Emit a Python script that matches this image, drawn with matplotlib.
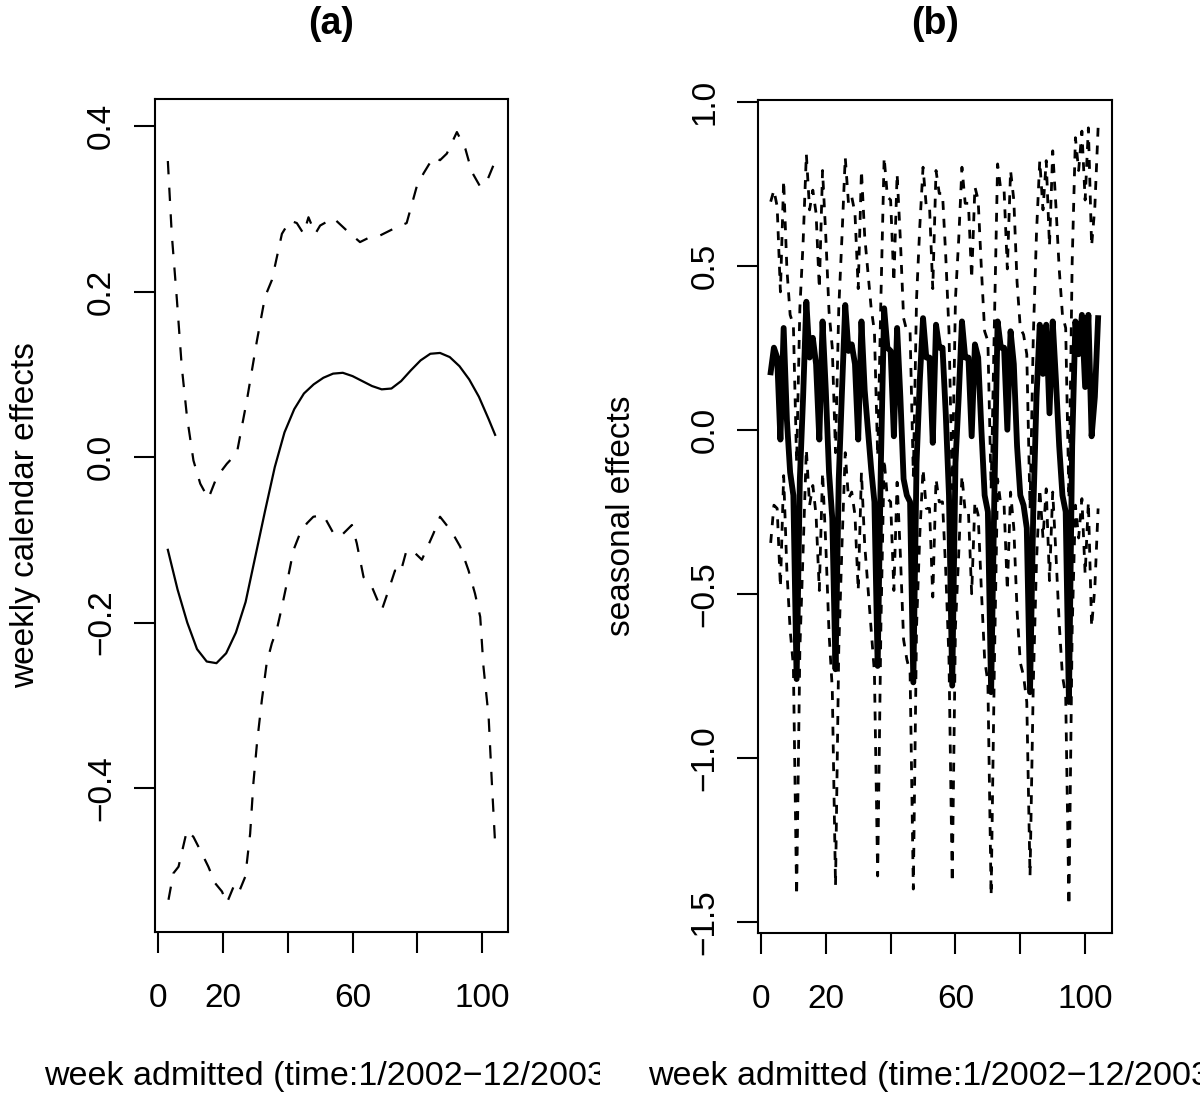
import matplotlib
matplotlib.use("Agg")
import matplotlib.pyplot as plt
from matplotlib.transforms import Bbox, TransformedBbox

plt.rcParams['font.family'] = ['Liberation Sans', 'DejaVu Sans']

# ---- data: panel (a) weekly calendar effects ----
wk_mid = [3, 6, 9, 12, 15, 18, 21, 24, 27, 30, 33, 36, 39, 42, 45, 48, 51, 54,
          57, 60, 63, 66, 69, 72, 75, 78, 81, 84, 87, 90, 93, 96, 99, 102, 104]
cal_mid = [-0.112, -0.16, -0.20, -0.232, -0.247, -0.249, -0.237, -0.212, -0.175,
           -0.12, -0.065, -0.012, 0.03, 0.058, 0.077, 0.088, 0.096, 0.101, 0.102,
           0.098, 0.092, 0.086, 0.082, 0.083, 0.092, 0.105, 0.117, 0.125, 0.126,
           0.121, 0.11, 0.094, 0.073, 0.046, 0.027]

wk_up = [3, 4.2, 5.8, 7.3, 8.9, 10.9, 13, 15.5, 18.1, 21.2, 24.3, 27.4, 30.5, 33,
         35.1, 37.1, 38.2, 40.7, 42.8, 44.9, 46.4, 48.5, 50, 54.1, 58.2, 62.3,
         65.4, 68.5, 73.1, 76.7, 79.8, 81.9, 85, 87, 89.1, 92.2, 94.8, 96.8, 99.4,
         101.4, 103.5]
cal_up = [0.358, 0.27, 0.19, 0.109, 0.049, -0.004, -0.032, -0.05, -0.024, -0.008,
          0.005, 0.069, 0.141, 0.194, 0.214, 0.25, 0.27, 0.286, 0.283, 0.27, 0.29,
          0.27, 0.28, 0.289, 0.274, 0.26, 0.266, 0.268, 0.277, 0.283, 0.327, 0.343,
          0.363, 0.359, 0.367, 0.393, 0.373, 0.345, 0.327, 0.333, 0.353]

wk_lo = [3.2, 4.7, 6.3, 8.9, 10.9, 13.5, 15.5, 17.6, 19.7, 21.2, 23.3, 24.8, 26.9,
         28.4, 29.4, 30.5, 32, 33.5, 35.1, 36.6, 38.2, 39.7, 41.8, 43.8, 45.9, 47.9,
         51, 54.1, 56.2, 59.8, 61.3, 63.4, 66, 69, 71.1, 73.1, 74.7, 76.7, 79.3,
         81.4, 85, 87, 90.6, 93.2, 95.8, 97.8, 99.4, 100.4, 102, 103, 104]
cal_lo = [-0.535, -0.503, -0.495, -0.451, -0.459, -0.479, -0.495, -0.515, -0.525,
          -0.539, -0.519, -0.527, -0.507, -0.455, -0.394, -0.346, -0.294, -0.249,
          -0.225, -0.209, -0.181, -0.153, -0.112, -0.092, -0.08, -0.072, -0.07,
          -0.092, -0.096, -0.082, -0.104, -0.145, -0.157, -0.185, -0.161, -0.137,
          -0.141, -0.112, -0.116, -0.124, -0.092, -0.072, -0.09, -0.108, -0.137,
          -0.165, -0.193, -0.253, -0.314, -0.394, -0.467]

# ---- data: panel (b) seasonal effects, weeks 3..104 ----
weeks = list(range(3, 105))
sea_mid = [0.175, 0.25, 0.22, -0.03, 0.31, 0.03, -0.13, -0.20, -0.76, -0.15,
           0.10, 0.39, 0.22, 0.28, 0.20, -0.03, 0.33, 0.12, -0.13, -0.27,
           -0.73, -0.15, 0.12, 0.38, 0.24, 0.26, 0.20, -0.03, 0.33, 0.12,
           0.00, -0.12, -0.22, -0.72, -0.10, 0.37, 0.25, 0.24, -0.02, 0.31,
           0.10, -0.15, -0.20, -0.22, -0.77, -0.10, 0.15, 0.34, 0.22, 0.22,
           -0.04, 0.32, 0.25, 0.25, 0.05, -0.20, -0.78, -0.10, 0.10, 0.33,
           0.22, 0.22, -0.02, 0.26, 0.22, 0.00, -0.20, -0.25, -0.80, -0.20,
           0.33, 0.25, 0.25, 0.00, 0.30, 0.20, -0.05, -0.20, -0.23, -0.30,
           -0.80, -0.25, 0.10, 0.32, 0.17, 0.32, 0.05, 0.33, 0.15, -0.05,
           -0.20, -0.25, -0.83, -0.05, 0.33, 0.23, 0.35, 0.13, 0.35, -0.02,
           0.10, 0.34]
sea_up = [0.695, 0.73, 0.68, 0.42, 0.76, 0.49, 0.35, 0.32, -0.10, 0.37,
          0.57, 0.84, 0.67, 0.73, 0.66, 0.43, 0.79, 0.59, 0.36, 0.25,
          -0.07, 0.37, 0.59, 0.83, 0.69, 0.71, 0.66, 0.43, 0.79, 0.59,
          0.48, 0.37, 0.30, -0.08, 0.40, 0.83, 0.71, 0.70, 0.45, 0.78,
          0.58, 0.34, 0.30, 0.30, -0.14, 0.40, 0.62, 0.80, 0.68, 0.68,
          0.43, 0.79, 0.72, 0.72, 0.53, 0.30, -0.18, 0.40, 0.58, 0.80,
          0.69, 0.69, 0.46, 0.74, 0.70, 0.49, 0.30, 0.27, -0.18, 0.32,
          0.81, 0.73, 0.73, 0.49, 0.79, 0.70, 0.45, 0.31, 0.29, 0.23,
          -0.24, 0.28, 0.60, 0.82, 0.67, 0.82, 0.56, 0.85, 0.68, 0.49,
          0.35, 0.31, -0.21, 0.51, 0.89, 0.79, 0.91, 0.70, 0.92, 0.56,
          0.68, 0.92]
sea_lo = [-0.345, -0.23, -0.24, -0.48, -0.14, -0.43, -0.61, -0.72, -1.42, -0.67,
          -0.37, -0.06, -0.23, -0.17, -0.26, -0.49, -0.13, -0.35, -0.62, -0.79,
          -1.39, -0.67, -0.35, -0.07, -0.21, -0.19, -0.26, -0.49, -0.13, -0.35,
          -0.48, -0.61, -0.74, -1.36, -0.60, -0.09, -0.21, -0.22, -0.49, -0.16,
          -0.38, -0.64, -0.70, -0.74, -1.40, -0.60, -0.32, -0.12, -0.24, -0.24,
          -0.51, -0.15, -0.22, -0.22, -0.43, -0.70, -1.38, -0.60, -0.38, -0.14,
          -0.25, -0.25, -0.50, -0.22, -0.26, -0.49, -0.70, -0.77, -1.42, -0.72,
          -0.15, -0.23, -0.23, -0.49, -0.19, -0.30, -0.55, -0.71, -0.75, -0.83,
          -1.36, -0.78, -0.40, -0.18, -0.33, -0.18, -0.46, -0.19, -0.38, -0.59,
          -0.75, -0.81, -1.45, -0.61, -0.23, -0.33, -0.21, -0.44, -0.22, -0.60,
          -0.48, -0.24]

x_ticks = [0, 20, 40, 60, 80, 100]
x_labels = ['0', '20', '', '60', '', '100']
a_ticks = [-0.4, -0.2, 0.0, 0.2, 0.4]
a_labels = ['\u22120.4', '\u22120.2', '0.0', '0.2', '0.4']
b_ticks = [-1.5, -1.0, -0.5, 0.0, 0.5, 1.0]
b_labels = ['\u22121.5', '\u22121.0', '\u22120.5', '0.0', '0.5', '1.0']

xlab = 'week admitted (time:1/2002\u221212/2003)'

fig = plt.figure(figsize=(12, 10.96), dpi=100)
ax1 = fig.add_axes([0.1288, 0.1496, 0.2946, 0.7601])
ax2 = fig.add_axes([0.6317, 0.1487, 0.2950, 0.7601])

# ---- (a) ----
ax1.plot(wk_mid, cal_mid, color='black', lw=1.6)
ax1.plot(wk_up, cal_up, color='black', lw=1.6, ls=(0, (6, 6)))
ax1.plot(wk_lo, cal_lo, color='black', lw=1.6, ls=(0, (6, 6)))
ax1.set_xlim(-1.1, 108.0)
ax1.set_ylim(-0.574, 0.433)
ax1.set_yticks(a_ticks)
ax1.set_yticklabels(a_labels)

# ---- (b) ----
ax2.plot(weeks, sea_up, color='black', lw=2.0, ls=(0, (3.2, 3.2)))
ax2.plot(weeks, sea_lo, color='black', lw=2.0, ls=(0, (3.2, 3.2)))
ax2.plot(weeks, sea_mid, color='black', lw=4.2)
ax2.set_xlim(-0.9, 108.3)
ax2.set_ylim(-1.534, 1.005)
ax2.set_yticks(b_ticks)
ax2.set_yticklabels(b_labels)

for ax in (ax1, ax2):
    ax.set_xticks(x_ticks)
    ax.set_xticklabels(x_labels)
    for s in ax.spines.values():
        s.set_linewidth(1.5)
    ax.tick_params(axis='both', length=15, width=1.5, labelsize=24)
    ax.tick_params(axis='x', pad=22)
    ax.tick_params(axis='y', pad=12)
    for t in ax.get_yticklabels():
        t.set_rotation(90)
        t.set_va('center')

# ---- titles and axis labels (clipped to each half like the R figure regions) ----
halves = [Bbox([[0, 0], [0.5, 1]]), Bbox([[0.5, 0], [1, 1]])]
centers = [0.2759, 0.7792]
titles = ['(a)', '(b)']
ylabs = ['weekly calendar effects', 'seasonal effects']
ylab_x = [0.021, 0.518]

for i in range(2):
    clip = TransformedBbox(halves[i], fig.transFigure)
    fig.text(centers[i], 0.978, titles[i], ha='center', va='center',
             fontsize=27, fontweight='bold')
    t = fig.text(centers[i], 0.0175, xlab, ha='center', va='center', fontsize=24.5)
    t.set_clip_box(clip)
    t.set_clip_on(True)
    fig.text(ylab_x[i], 0.5297, ylabs[i], ha='center', va='center',
             rotation=90, fontsize=24)

fig.savefig('out.png', dpi=100)
